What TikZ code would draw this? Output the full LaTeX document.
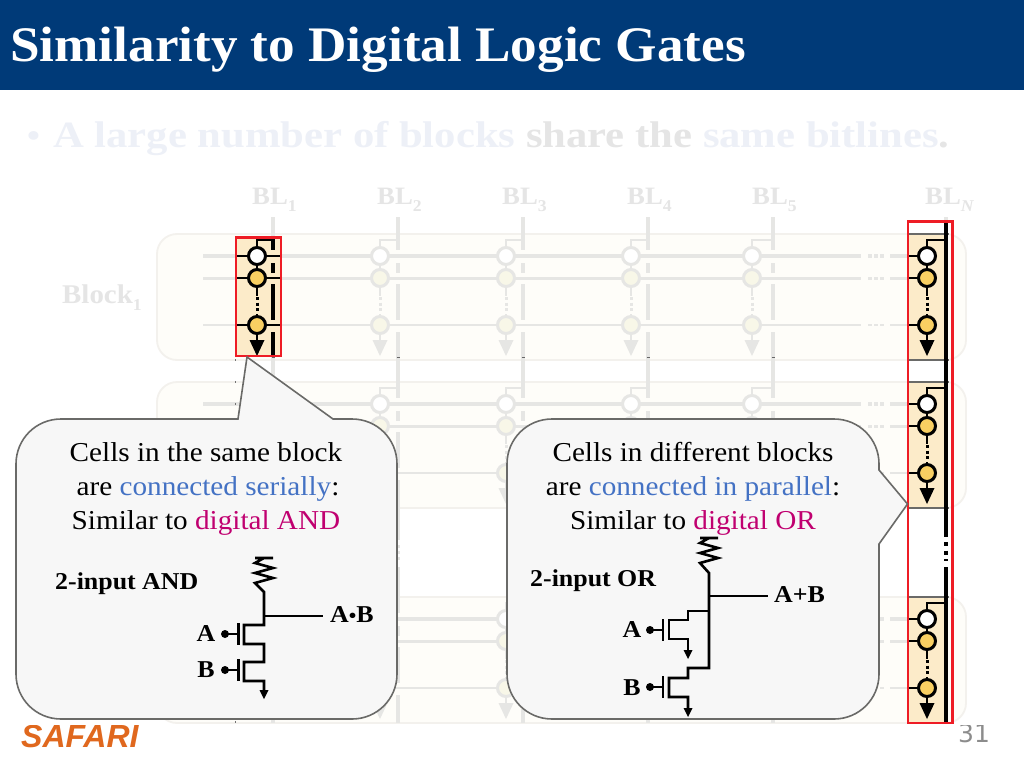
\documentclass[tikz,border=0pt]{standalone}
\usepackage{fontspec}
\setmainfont[FakeStretch=1.07]{Liberation Serif}
\newfontfamily\widefont[FakeStretch=1.15]{Liberation Serif}
\newfontfamily\logofont{Liberation Sans}
\newfontfamily\pagefont{DejaVu Sans}
\definecolor{barblue}{HTML}{003A78}
\definecolor{fadeline}{HTML}{E6E6E4}
\definecolor{fadeyel}{HTML}{F8F7E8}
\definecolor{blockfill}{HTML}{FEFDF9}
\definecolor{blockedge}{HTML}{F3F1ED}
\definecolor{tan}{HTML}{FCEBC9}
\definecolor{cellyel}{HTML}{F9CF62}
\definecolor{hired}{HTML}{EE1C25}
\definecolor{calfill}{HTML}{F7F7F7}
\definecolor{caledge}{HTML}{6A6A68}
\definecolor{txtblue}{HTML}{4472C4}
\definecolor{txtmag}{HTML}{C00070}
\definecolor{paleblue}{HTML}{EDF0F7}
\definecolor{fadetxt}{HTML}{E5E5E5}
\definecolor{safari}{HTML}{E0681E}
\tikzset{
 x=1pt,y=-1pt,
 blockbox/.style={draw=blockedge,line width=1.8pt,fill=blockfill,rounded corners=20pt},
 cellcirc/.style={circle,inner sep=0pt,minimum size=17pt,line width=3pt},
 redbox/.style={draw=hired,line width=2.6pt},
 callout/.style={draw=caledge,line width=1.6pt,fill=calfill},
 wire/.style={line width=2.9pt,black},
 gatewire/.style={line width=2.6pt,black},
 bodytxt/.style={inner sep=0pt,anchor=base,font=\fontsize{27.3}{32}\selectfont},
 boldtxt/.style={inner sep=0pt,font=\bfseries\fontsize{24.2}{30}\selectfont},
 bltxt/.style={inner sep=0pt,text=fadetxt,font=\bfseries\fontsize{25}{30}\selectfont},
}
% one memory cell string: circle x, bitline x, vertical offset, line colour, cell colour
\newcommand{\CellCol}[5]{%
 \begin{scope}[shift={(0,#3)}]
  \draw[line width=2.9pt,#4] (#2,240) -- (#1,240) -- (#1,256);
  \draw[line width=2.9pt,#4] (#1,256) -- (#1,296);
  \draw[line width=3pt,#4,dash pattern=on 3pt off 2.6pt] (#1,297) -- (#1,312);
  \draw[line width=2.9pt,#4] (#1,314) -- (#1,342);
  \fill[#4] (#1-7.5,340) -- (#1+7.5,340) -- (#1,356) -- cycle;
  \node[cellcirc,draw=#4,fill=white] (ca#1x#3) at (#1,256) {};
  \node[cellcirc,draw=#4,fill=#5] (cb#1x#3) at (#1,278) {};
  \node[cellcirc,draw=#4,fill=#5] (cc#1x#3) at (#1,325) {};
 \end{scope}}
% bitline segments broken where the wordlines cross, for one block
\newcommand{\BitGaps}[4]{% x, offset, end of last segment (local), colour
 \begin{scope}[shift={(0,#2)}]
  \draw[line width=3.2pt,#4] (#1,263) -- (#1,273);
  \draw[line width=3.2pt,#4] (#1,284) -- (#1,320);
  \draw[line width=3.2pt,#4] (#1,332) -- (#1,#3);
 \end{scope}}
\begin{document}
\begin{tikzpicture}
\useasboundingbox (0,0) rectangle (1024,768);
\fill[white] (0,0) rectangle (1024,768);
% title bar
\fill[barblue] (0,0) rectangle (1024,90);
\node[anchor=base west,inner sep=0pt,text=white,font=\bfseries\fontsize{49.7}{56}\selectfont] (title) at (10,61) {Similarity to Digital Logic Gates};
% bullet
\node[anchor=base west,inner sep=0pt,text=paleblue,font=\widefont\bfseries\fontsize{32}{44}\selectfont] (bulletdot) at (27,146) {•};
\node[anchor=base west,inner sep=0pt,font=\widefont\bfseries\fontsize{37.1}{44}\selectfont] (bullet) at (53,147) {\textcolor{paleblue}{A large number of blocks} \textcolor{fadetxt}{share the} \textcolor{paleblue}{same bitlines}\textcolor{fadetxt}{.}};
% bitline labels
\newcommand{\BLsub}[1]{\raisebox{-0.28em}{\fontsize{16.5}{20}\selectfont #1}}
\node[bltxt,anchor=base west] (bl1) at (252,204) {BL\BLsub{1}};
\node[bltxt,anchor=base west] (bl2) at (377,204) {BL\BLsub{2}};
\node[bltxt,anchor=base west] (bl3) at (502,204) {BL\BLsub{3}};
\node[bltxt,anchor=base west] (bl4) at (627,204) {BL\BLsub{4}};
\node[bltxt,anchor=base west] (bl5) at (752,204) {BL\BLsub{5}};
\node[bltxt,anchor=base west] (bln) at (925,204) {BL\BLsub{\textit{N}}};
\node[bltxt,anchor=base west,font=\bfseries\fontsize{27}{30}\selectfont] (blockone) at (62,303) {Block\BLsub{1}};
% blocks
\foreach \d in {0,148,363}{
 \draw[blockbox] (157,234+\d) rectangle (966,360+\d);
 \foreach \yy/\w in {256/3.4,278/3,325/2.8}{
  \draw[fadeline,line width=\w pt] (203,\yy+\d) -- (861,\yy+\d);
  \draw[fadeline,line width=\w pt,dash pattern=on 4pt off 2pt] (868,\yy+\d) -- (885,\yy+\d);
  \draw[fadeline,line width=\w pt] (890,\yy+\d) -- (908,\yy+\d);
 }
}
% faded bitlines
\foreach \bx in {273,398,523,648,773}{
 \draw[fadeline,line width=3.2pt] (\bx,217) -- (\bx,250);
 \BitGaps{\bx}{0}{398}{fadeline}
 \BitGaps{\bx}{148}{392}{fadeline}
 \draw[fadeline,line width=3.2pt,dash pattern=on 3pt off 3pt] (\bx,545) -- (\bx,562);
 \draw[fadeline,line width=3.2pt] (\bx,567) -- (\bx,613);
 \BitGaps{\bx}{363}{360}{fadeline}
 \draw[black!60,line width=0.8pt] (\bx-1.5,357.5) -- (\bx+1.5,357.5);
}
\draw[fadeline,line width=3.2pt] (946,217) -- (946,222);
% faded cells
\foreach \cx/\bx in {380/398,506/523,631/648,752/773}{
 \foreach \d in {0,148,363}{
  \CellCol{\cx}{\bx}{\d}{fadeline}{fadeyel}
 }
}
\foreach \d in {148,363}{ \CellCol{257}{273}{\d}{fadeline}{fadeyel} }
% ticks at the edge of the first column
\foreach \yy in {360,382,404,722}{
 \draw[black!55,line width=0.8pt] (235.5,\yy-1) -- (235.5,\yy+1);
}
% first highlighted column
\fill[tan] (236,237) rectangle (281,356);
\foreach \yy in {256,278,325}{ \draw[wire] (237,\yy) -- (280,\yy); }
\draw[line width=3.2pt,black] (273,238) -- (273,250);
\BitGaps{273}{0}{355}{black}
\CellCol{257}{273}{0}{black}{cellyel}
\draw[redbox] (236,237.5) rectangle (281,356);
% last highlighted column
\foreach \d in {0,148,363}{
 \fill[tan] (908,234+\d) rectangle (947,360+\d);
 \draw[caledge,line width=1.4pt] (908,234+\d) -- (949,234+\d);
 \draw[caledge,line width=1.4pt] (908,360+\d) -- (949,360+\d);
 \foreach \yy in {256,278,325}{ \draw[wire] (908,\yy+\d) -- (927,\yy+\d); }
 \CellCol{927}{946}{\d}{black}{cellyel}
}
\draw[line width=3.2pt,black] (946,221) -- (946,537);
\draw[line width=3.2pt,black,dash pattern=on 4pt off 4.5pt] (946,542) -- (946,561);
\draw[line width=3.2pt,black] (946,567) -- (946,723);
\draw[redbox] (908,221.5) rectangle (952.5,723);
% logo and page number, cut at the top
\begin{scope}
 \clip (0,725) rectangle (1024,768);
 \node[anchor=base west,inner sep=0pt,text=safari,font=\logofont\bfseries\itshape\fontsize{32}{40}\selectfont] (logo) at (21,747) {SAFARI};
 \node[anchor=base,inner sep=0pt,text=black!45,font=\pagefont\fontsize{25}{30}\selectfont] (page) at (974,742) {31};
\end{scope}
% call-outs
\draw[callout] (61,419) -- (238,419) -- (247,357) -- (333,419) -- (352,419)
  .. controls (377,419) and (397,439) .. (397,464) -- (397,674)
  .. controls (397,699) and (377,719) .. (352,719) -- (61,719)
  .. controls (36,719) and (16,699) .. (16,674) -- (16,464)
  .. controls (16,439) and (36,419) .. (61,419) -- cycle;
\draw[callout] (552,419) -- (834,419)
  .. controls (859,419) and (879,439) .. (879,464) -- (879,470) -- (907.5,504) -- (879,544) -- (879,674)
  .. controls (879,699) and (859,719) .. (834,719) -- (552,719)
  .. controls (527,719) and (507,699) .. (507,674) -- (507,464)
  .. controls (507,439) and (527,419) .. (552,419) -- cycle;
% call-out texts
\node[bodytxt] (l1) at (206,461) {Cells in the same block};
\node[bodytxt] (l2) at (208,495) {are \textcolor{txtblue}{connected serially}:};
\node[bodytxt] (l3) at (206,529) {Similar to \textcolor{txtmag}{digital AND}};
\node[bodytxt] (r1) at (693,461) {Cells in different blocks};
\node[bodytxt] (r2) at (693,495) {are \textcolor{txtblue}{connected in parallel}:};
\node[bodytxt] (r3) at (693,529) {Similar to \textcolor{txtmag}{digital OR}};
\node[boldtxt,anchor=base west] (andlab) at (55,589) {2-input AND};
\node[boldtxt,anchor=base west] (orlab) at (530,586) {2-input OR};
% AND circuit
\node[boldtxt,anchor=west] (ab) at (330,615) {A\raisebox{0.02em}{\fontsize{20}{20}\selectfont•}B};
\node[boldtxt] (aa) at (206,634) {A};
\node[boldtxt] (ba) at (206,670) {B};
\coordinate (andout) at (323,616);
\draw[gatewire] (255,558) -- (273,558) (264,558) -- (255,563) -- (273,568) -- (255,573) -- (273,578) -- (255,583) -- (264,592) -- (264,625) -- (244,625) -- (244,644) -- (264,644) -- (264,662) -- (244,662) -- (244,681) -- (264,681) -- (264,690);
\draw[gatewire] (264,616) -- (andout);
\fill[black] (259.5,690) -- (268.5,690) -- (264,699) -- cycle;
\foreach \yy in {634,670}{
 \draw[gatewire] (238.5,\yy-11) -- (238.5,\yy+11);
 \draw[gatewire] (225,\yy) -- (238.5,\yy);
 \fill[black] (225,\yy) circle (4);
}
% OR circuit
\node[boldtxt,anchor=west] (apb) at (774,595) {A+B};
\node[boldtxt] (ao) at (632,630) {A};
\node[boldtxt] (bo) at (632,688) {B};
\coordinate (orout) at (768,596);
\draw[gatewire] (700,538) -- (718,538) (709,538) -- (700,543) -- (718,548) -- (700,553) -- (718,558) -- (700,563) -- (709,573) -- (709,668) -- (688,668) -- (688,678) -- (669,678) -- (669,697) -- (688,697) -- (688,708);
\draw[gatewire] (709,611) -- (688,611) -- (688,620) -- (669,620) -- (669,639) -- (688,639) -- (688,650);
\draw[gatewire] (709,596) -- (orout);
\fill[black] (683.5,650) -- (692.5,650) -- (688,659) -- cycle;
\fill[black] (683.5,708) -- (692.5,708) -- (688,717) -- cycle;
\foreach \yy in {630,687}{
 \draw[gatewire] (663,\yy-11) -- (663,\yy+11);
 \draw[gatewire] (650,\yy) -- (663,\yy);
 \fill[black] (650,\yy) circle (4);
}
\end{tikzpicture}
\end{document}
